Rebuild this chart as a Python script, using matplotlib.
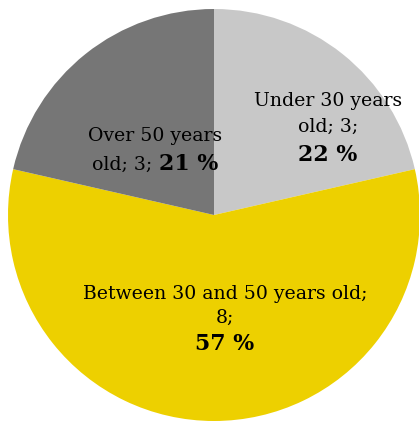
import matplotlib
matplotlib.use("Agg")
import matplotlib.pyplot as plt
from matplotlib.offsetbox import TextArea, HPacker, VPacker, AnnotationBbox

# data
groups = ["Under 30 years old", "Between 30 and 50 years old", "Over 50 years old"]
counts = [3, 8, 3]
pct_labels = ["22 %", "57 %", "21 %"]
colors = ["#c8c8c8", "#edd000", "#767676"]

W, H = 419, 421
fig = plt.figure(figsize=(W / 100, H / 100), dpi=100)
ax = fig.add_axes([0, 0, 1, 1])

# pixel layout measured from the top-left corner
cx, cy, r = 214, 215, 206
ax.pie(counts, colors=colors, startangle=90, counterclock=False,
       center=(cx, H - cy), radius=r, wedgeprops=dict(linewidth=0))
ax.set_xlim(0, W)
ax.set_ylim(0, H)
ax.set_aspect("equal")
ax.axis("off")

fam = "DejaVu Serif"
reg = dict(family=fam, size=13.6, color="black")
bold = dict(family=fam, size=15.8, weight="bold", color="black")


def txt(s, props):
    return TextArea(s, textprops=props)


def put(box, x, y):
    ab = AnnotationBbox(box, (x, H - y), xycoords="data", frameon=False,
                        box_alignment=(0.5, 0.5), pad=0)
    ax.add_artist(ab)


def row(*items):
    return HPacker(children=list(items), align="baseline", pad=0, sep=0)


# Under 30
b = VPacker(children=[row(txt("Under 30 years", reg)),
                      row(txt("old; " + str(counts[0]) + ";", reg)),
                      row(txt(pct_labels[0], bold))],
            align="center", pad=0, sep=6)
put(b, 328, 129)

# Over 50
b = VPacker(children=[row(txt("Over 50 years", reg)),
                      row(txt("old; " + str(counts[2]) + "; ", reg), txt(pct_labels[2], bold))],
            align="center", pad=0, sep=6)
put(b, 155, 151)

# Between 30 and 50
b = VPacker(children=[row(txt("Between 30 and 50 years old;", reg)),
                      row(txt(str(counts[1]) + ";", reg)),
                      row(txt(pct_labels[1], bold))],
            align="center", pad=0, sep=4)
put(b, 225, 320)

fig.savefig("out.png", dpi=100)
